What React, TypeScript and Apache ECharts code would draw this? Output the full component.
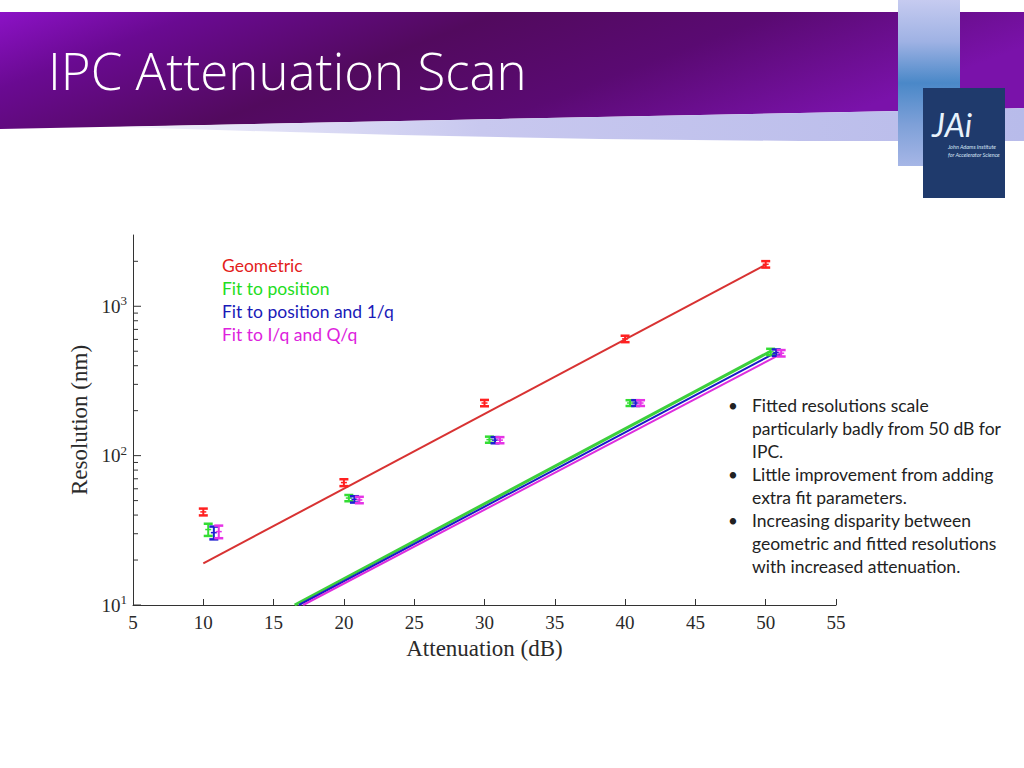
import React, { useEffect, useRef } from "react";
import * as echarts from "echarts";

// ---- data ----
const xMin = 5;
const xMax = 55;
const yMin = 10;
const yMax = 3000;

const geomX = [10, 20, 30, 40, 50];
const geomY = [42, 66, 225, 605, 1910];
const geomErr = [2.2, 3.5, 11, 30, 95];

const posX = [10.35, 20.35, 30.35, 40.35, 50.35];
const posY = [32, 52, 128, 225, 495];
const posErr = [3, 2.5, 6, 10, 24];

const posQX = [10.75, 20.75, 30.75, 40.75, 50.75];
const posQY = [30.5, 51, 127, 225, 490];
const posQErr = [3, 2.5, 6, 10, 24];

const iqX = [11.1, 21.1, 31.1, 41.1, 51.1];
const iqY = [31, 50.5, 127, 225, 485];
const iqErr = [3, 2.5, 6, 10, 24];

const geomFitX = [10, 50];
const geomFitY = [19, 1900];
const posFitX = [16.5, 50.35];
const posFitY = [10, 500];
const posQFitX = [16.8, 50.75];
const posQFitY = [10, 492];
const iqFitX = [17.1, 51.1];
const iqFitY = [10, 480];

const majorTicks = [10, 100, 1000];
const minorTicks = [20, 30, 40, 50, 60, 70, 80, 90, 200, 300, 400, 500, 600, 700, 800, 900, 2000];

const seriesNames = ["Geometric", "Fit to position", "Fit to position and 1/q", "Fit to I/q and Q/q"];
const pointColors = ["#ff2020", "#33dd33", "#1f1fd0", "#e633e6"];
const lineColors = ["#d83232", "#3ccf3c", "#1a1ac8", "#dd2ddd"];
const legendColors = ["#e3211c", "#22dd22", "#1a1ab8", "#dd22dd"];

const bullets = [
  ["Fitted resolutions scale", "particularly badly from 50 dB for", "IPC."],
  ["Little improvement from adding", "extra fit parameters."],
  ["Increasing disparity between", "geometric and fitted resolutions", "with increased attenuation."],
];

const title = "IPC Attenuation Scan";

const SERIF = "'Liberation Serif', 'DejaVu Serif', serif";
const SANS = "Lato, 'Open Sans', sans-serif";
const TITLE_FONT = "'Open Sans', Lato, sans-serif";

function errSeries(name: string, xs: number[], ys: number[], es: number[], color: string) {
  return {
    name,
    type: "custom",
    z: 5,
    encode: { x: 0, y: 1 },
    data: xs.map((x, i) => [x, ys[i], es[i]]),
    renderItem: (params: any, api: any) => {
      const x = api.value(0);
      const y = api.value(1);
      const e = api.value(2);
      const top = api.coord([x, y + e]);
      const bot = api.coord([x, y - e]);
      const c = api.coord([x, y]);
      const hw = 4.5;
      return {
        type: "group",
        children: [
          { type: "line", shape: { x1: c[0], y1: top[1], x2: c[0], y2: bot[1] }, style: { stroke: color, lineWidth: 2 } },
          { type: "line", shape: { x1: c[0] - hw, y1: top[1], x2: c[0] + hw, y2: top[1] }, style: { stroke: color, lineWidth: 2.5 } },
          { type: "line", shape: { x1: c[0] - hw, y1: bot[1], x2: c[0] + hw, y2: bot[1] }, style: { stroke: color, lineWidth: 2.5 } },
          { type: "line", shape: { x1: c[0] - 3, y1: c[1], x2: c[0] + 3, y2: c[1] }, style: { stroke: color, lineWidth: 1.5 } },
        ],
      };
    },
  };
}

function fitSeries(name: string, xs: number[], ys: number[], color: string, width: number, z: number) {
  return {
    name,
    type: "line",
    data: xs.map((x, i) => [x, ys[i]]),
    symbol: "none",
    clip: true,
    z,
    lineStyle: { color, width },
    itemStyle: { color },
  };
}

export default function App() {
  const ref = useRef<HTMLDivElement>(null);

  useEffect(() => {
    document.body.style.margin = "0";
    const chart = echarts.init(ref.current!, undefined, { renderer: "svg" });

    const tickData = [
      ...majorTicks.map((v) => [xMin, v, 8]),
      ...minorTicks.map((v) => [xMin, v, 5]),
    ];

    const bulletGraphics: any[] = [];
    let lineIdx = 0;
    bullets.forEach((para) => {
      const y0 = 393.5 + lineIdx * 23;
      bulletGraphics.push({
        type: "text",
        x: 728,
        y: y0,
        style: { text: "•", font: `17px ${SANS}`, fill: "#222", lineHeight: 23, verticalAlign: "top" },
      });
      bulletGraphics.push({
        type: "text",
        x: 752,
        y: y0,
        style: { text: para.join("\n"), font: `17.5px ${SANS}`, fill: "#222", lineHeight: 23, verticalAlign: "top" },
      });
      lineIdx += para.length;
    });

    const option: any = {
      animation: false,
      backgroundColor: "#ffffff",
      grid: { left: 133, top: 235, width: 703, height: 370, containLabel: false },
      legend: {
        left: 212,
        top: 249,
        orient: "vertical",
        selectedMode: false,
        itemWidth: 0,
        itemHeight: 8,
        itemGap: 0,
        textStyle: { fontFamily: SANS, fontSize: 17.5, lineHeight: 23 },
        data: seriesNames.map((n, i) => ({ name: n, icon: "none", textStyle: { color: legendColors[i] } })),
      },
      xAxis: {
        type: "value",
        min: xMin,
        max: xMax,
        interval: 5,
        name: "Attenuation (dB)",
        nameLocation: "middle",
        nameGap: 32,
        nameTextStyle: { fontFamily: SERIF, fontSize: 23, color: "#2a2a2a" },
        axisLine: { show: true, lineStyle: { color: "#333", width: 1 } },
        axisTick: { show: true, inside: true, length: 6, lineStyle: { color: "#333" } },
        axisLabel: { margin: 8, fontFamily: SERIF, fontSize: 19, color: "#2a2a2a" },
        splitLine: { show: false },
      },
      yAxis: {
        type: "log",
        logBase: 10,
        min: yMin,
        max: yMax,
        name: "Resolution (nm)",
        nameLocation: "middle",
        nameGap: 41,
        nameRotate: 90,
        nameTextStyle: { fontFamily: SERIF, fontSize: 23, color: "#2a2a2a" },
        axisLine: { show: true, lineStyle: { color: "#333", width: 1 } },
        axisTick: { show: false },
        splitLine: { show: false },
        axisLabel: {
          margin: 6,
          color: "#2a2a2a",
          formatter: (v: number) => {
            const e = Math.round(Math.log10(v));
            if (Math.abs(v - Math.pow(10, e)) > 1e-6 * v) return "";
            return `{b|10}{s|${e}}`;
          },
          rich: {
            b: { fontFamily: SERIF, fontSize: 19, color: "#2a2a2a", lineHeight: 24 },
            s: { fontFamily: SERIF, fontSize: 13, color: "#2a2a2a", verticalAlign: "top", lineHeight: 14 },
          },
        },
      },
      series: [
        {
          name: "ticks",
          type: "custom",
          z: 1,
          encode: { x: 0, y: 1 },
          data: tickData,
          silent: true,
          renderItem: (params: any, api: any) => {
            const p = api.coord([api.value(0), api.value(1)]);
            const len = api.value(2);
            return {
              type: "line",
              shape: { x1: p[0], y1: p[1], x2: p[0] + len, y2: p[1] },
              style: { stroke: "#333", lineWidth: 1 },
            };
          },
        },
        fitSeries(seriesNames[0], geomFitX, geomFitY, lineColors[0], 2, 3),
        fitSeries(seriesNames[1], posFitX, posFitY, lineColors[1], 3, 3),
        fitSeries(seriesNames[2], posQFitX, posQFitY, lineColors[2], 2, 3),
        fitSeries(seriesNames[3], iqFitX, iqFitY, lineColors[3], 2, 3),
        errSeries(seriesNames[0], geomX, geomY, geomErr, pointColors[0]),
        errSeries(seriesNames[1], posX, posY, posErr, pointColors[1]),
        errSeries(seriesNames[2], posQX, posQY, posQErr, pointColors[2]),
        errSeries(seriesNames[3], iqX, iqY, iqErr, pointColors[3]),
      ],
      graphic: [
        {
          type: "polygon",
          z: 10,
          shape: {
            points: [
              [0, 12], [1024, 12], [1024, 108], [900, 111], [700, 115], [500, 119], [300, 123], [100, 127], [0, 129],
            ],
          },
          style: {
            fill: new echarts.graphic.LinearGradient(0, 0, 1, 0.3, [
              { offset: 0, color: "#8c12c6" },
              { offset: 0.18, color: "#6a0a92" },
              { offset: 0.45, color: "#520a5e" },
              { offset: 0.7, color: "#5a0a72" },
              { offset: 1, color: "#7a12aa" },
            ]),
          },
        },
        {
          type: "polygon",
          z: 10,
          shape: {
            points: [
              [120, 127], [300, 123], [500, 119], [700, 115], [900, 111], [1024, 108],
              [1024, 141], [800, 141], [600, 139], [400, 135], [250, 131],
            ],
          },
          style: {
            fill: new echarts.graphic.LinearGradient(0, 0, 1, 0, [
              { offset: 0, color: "#f2f2fb" },
              { offset: 0.4, color: "#c8c8ef" },
              { offset: 1, color: "#b8bbea" },
            ]),
          },
        },
        {
          type: "text",
          z: 11,
          x: 48,
          y: 70,
          style: { text: title, font: `300 51px ${TITLE_FONT}`, fill: "#ffffff", verticalAlign: "middle" },
        },
        {
          type: "rect",
          z: 12,
          shape: { x: 898, y: 0, width: 62, height: 166 },
          style: {
            fill: new echarts.graphic.LinearGradient(0, 0, 0, 1, [
              { offset: 0, color: "#c6cbf0" },
              { offset: 0.25, color: "#9fb2e4" },
              { offset: 0.5, color: "#4a88c8" },
              { offset: 0.75, color: "#7ea0d8" },
              { offset: 1, color: "#a6b6e6" },
            ]),
          },
        },
        {
          type: "rect",
          z: 13,
          shape: { x: 923, y: 88, width: 82, height: 110 },
          style: { fill: "#1f3a6c" },
        },
        {
          type: "text",
          z: 14,
          x: 932,
          y: 124,
          style: { text: "JAi", font: `italic 32px ${SANS}`, fill: "#e8f2fb", verticalAlign: "middle" },
        },
        {
          type: "text",
          z: 14,
          x: 948,
          y: 147,
          style: { text: "John Adams Institute", font: `italic 5.5px ${SANS}`, fill: "#d6e4f4", verticalAlign: "middle" },
        },
        {
          type: "text",
          z: 14,
          x: 948,
          y: 155,
          style: { text: "for Accelerator Science", font: `italic 5.5px ${SANS}`, fill: "#d6e4f4", verticalAlign: "middle" },
        },
        ...bulletGraphics,
      ],
    };

    chart.setOption(option);
    return () => chart.dispose();
  }, []);

  return <div ref={ref} style={{ position: "absolute", left: 0, top: 0, width: 1024, height: 768 }} />;
}
